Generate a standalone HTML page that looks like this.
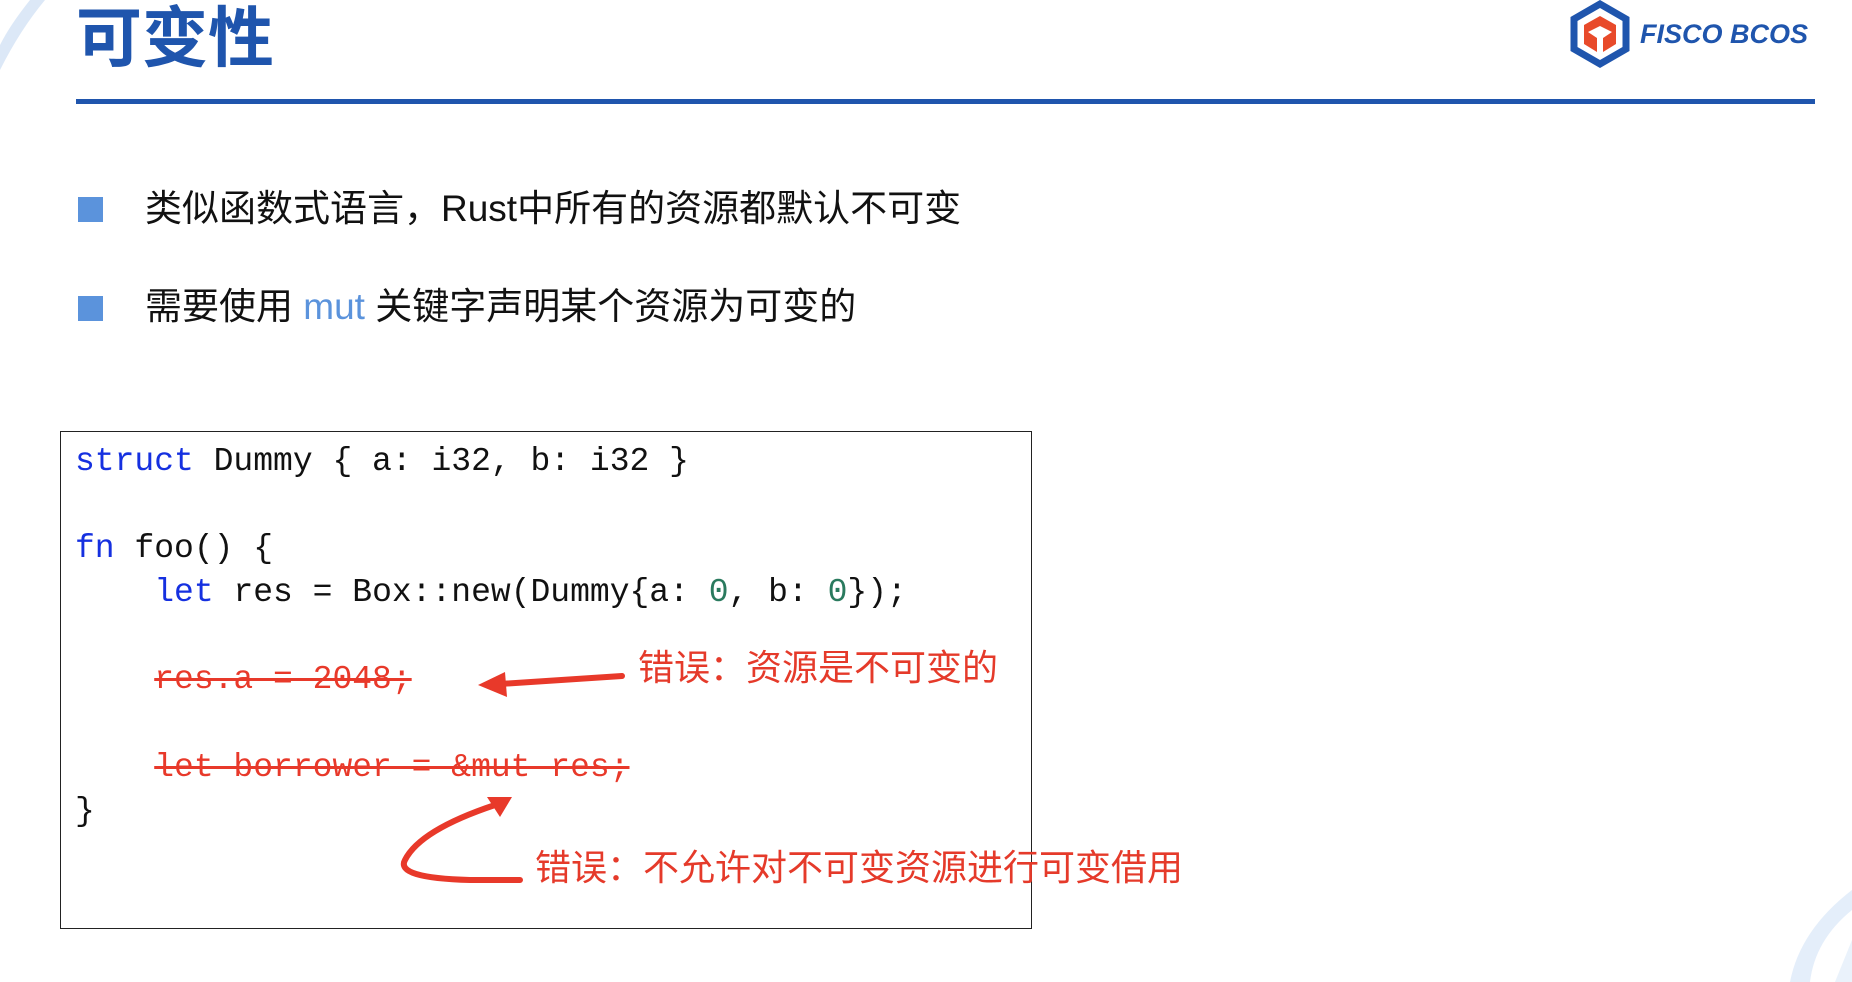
<!DOCTYPE html>
<html><head><meta charset="utf-8"><style>
body{margin:0;width:1852px;height:982px;background:#fff;position:relative;overflow:hidden;font-family:"Liberation Sans","Noto Sans CJK SC",sans-serif;}
.a{position:absolute;white-space:pre;}
.code{font-family:"Liberation Mono","DejaVu Sans Mono",monospace;font-size:33px;line-height:44px;color:#111;}
.k{color:#1530e0}.n{color:#2a7a5e}
.s{color:#e8392a;text-decoration:line-through;text-decoration-thickness:3px;}
.red{color:#e53a2a;font-size:36px;line-height:44px;font-family:"Liberation Sans","Noto Sans CJK SC",sans-serif;}
.b{font-size:37px;line-height:44px;color:#111;}
.sq{position:absolute;width:25px;height:25px;background:#5b93dc;}
</style></head><body>
<svg class="a" style="left:0;top:0" width="1852" height="982">
<path d="M0 70 Q20 30 45 0 L30 0 Q10 25 0 45Z" fill="#dce8f7"/>
<path d="M1790 982 Q1800 930 1852 890 L1852 910 Q1815 940 1810 982Z" fill="#e4eefa"/>
<path d="M1852 940 L1852 982 L1835 982Z" fill="#eaf2fb"/>
<rect x="76" y="99" width="1739" height="5" fill="#1f55ad"/>
<polygon points="1600,4 1626,19 1626,49 1600,64 1574,49 1574,19" fill="none" stroke="#1f55ad" stroke-width="7"/>
<polygon points="1600,16 1616,25 1616,44 1603,52 1603,38 1612,32 1600,26 1588,32 1597,38 1597,52 1584,44 1584,25" fill="#e84a2a"/>
<text x="1640" y="43" font-family="Liberation Sans" font-weight="bold" font-style="italic" font-size="27" fill="#1f55ad">FISCO BCOS</text>
<g stroke="#e8392a" stroke-width="6" fill="none" stroke-linecap="round">
<path d="M622 676 L500 684"/>
<path d="M520 880 L470 880 Q395 878 405 860 Q420 830 495 805"/>
</g>
<polygon points="478,685 505,672 507,697" fill="#e8392a"/>
<polygon points="512,797 487,797 500,817" fill="#e8392a"/>
</svg>
<div class="a" style="left:76px;top:-2px;font-size:66px;line-height:80px;font-weight:bold;color:#1f55ad;font-family:'Liberation Sans','Noto Sans CJK SC',sans-serif;">可变性</div>
<div class="sq" style="left:78px;top:197px"></div>
<div class="sq" style="left:78px;top:296px"></div>
<div class="a b" style="left:145px;top:187px">类似函数式语言，Rust中所有的资源都默认不可变</div>
<div class="a b" style="left:145px;top:285px">需要使用 <span style="color:#5b93dc">mut</span> 关键字声明某个资源为可变的</div>
<div class="a" style="left:60px;top:431px;width:970px;height:496px;border:1.5px solid #222;"></div>
<div class="a code" style="left:75px;top:440px"><span class="k">struct</span> Dummy { a: i32, b: i32 }</div>
<div class="a code" style="left:75px;top:527px"><span class="k">fn</span> foo() {</div>
<div class="a code" style="left:75px;top:571px">    <span class="k">let</span> res = Box::new(Dummy{a: <span class="n">0</span>, b: <span class="n">0</span>});</div>
<div class="a code" style="left:75px;top:658px">    <span class="s">res.a = 2048;</span></div>
<div class="a code" style="left:75px;top:746px">    <span class="s">let borrower = &amp;mut res;</span></div>
<div class="a code" style="left:75px;top:790px">}</div>
<div class="a red" style="left:638px;top:646px">错误：资源是不可变的</div>
<div class="a red" style="left:535px;top:846px">错误：不允许对不可变资源进行可变借用</div>
</body></html>
